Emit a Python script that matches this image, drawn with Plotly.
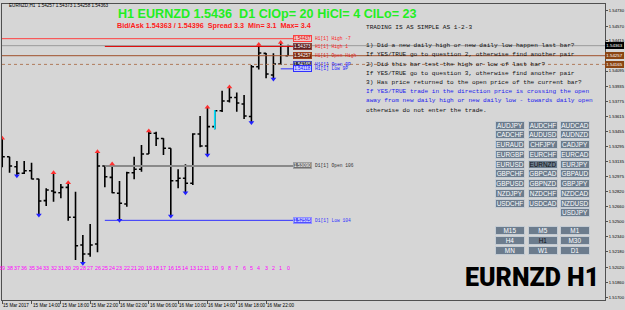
import plotly.graph_objects as go

# ---------------- data ----------------
bar_shift_labels = list(range(39, -1, -1))          # MT4 bar index (39 .. 0)
opens = [1.53280, 1.53188, 1.53082, 1.53013, 1.53040, 1.52952, 1.52723, 1.52825, 1.52807, 1.52864,
         1.52547, 1.52254, 1.52159, 1.52264, 1.53090, 1.52970, 1.52801, 1.52688, 1.53019, 1.53055,
         1.53217, 1.53436, 1.53381, 1.53277, 1.52934, 1.52960, 1.52907, 1.53428, 1.53301, 1.53506,
         1.53675, 1.53777, 1.53814, 1.53746, 1.53613, 1.54140, 1.54282, 1.54053, 1.54169, 1.54257]
highs = [1.53383, 1.53188, 1.53143, 1.53143, 1.53125, 1.52955, 1.52854, 1.53019, 1.52899, 1.52913,
         1.52818, 1.52360, 1.52476, 1.53241, 1.53090, 1.53111, 1.52931, 1.53029, 1.53188, 1.53312,
         1.53460, 1.53453, 1.53383, 1.53279, 1.53055, 1.53108, 1.53436, 1.53619, 1.53711, 1.53682,
         1.53886, 1.53926, 1.53867, 1.53841, 1.54158, 1.54375, 1.54285, 1.54282, 1.54396, 1.54373]
lows = [1.53076, 1.53019, 1.52987, 1.53005, 1.52949, 1.52571, 1.52667, 1.52712, 1.52748, 1.52511,
        1.52095, 1.52060, 1.52130, 1.52177, 1.52864, 1.52801, 1.52515, 1.52659, 1.52949, 1.53029,
        1.53217, 1.53301, 1.53206, 1.52561, 1.52854, 1.52807, 1.52889, 1.53288, 1.53206, 1.53478,
        1.53661, 1.53762, 1.53664, 1.53587, 1.53550, 1.54111, 1.54018, 1.54010, 1.54158, 1.54255]
closes = [1.53188, 1.53090, 1.53013, 1.53040, 1.52952, 1.52719, 1.52836, 1.52811, 1.52864, 1.52547,
          1.52246, 1.52159, 1.52254, 1.53090, 1.52976, 1.52807, 1.52695, 1.53019, 1.53055, 1.53217,
          1.53436, 1.53381, 1.53277, 1.52934, 1.52960, 1.52907, 1.53428, 1.53301, 1.53506, 1.53675,
          1.53777, 1.53814, 1.53756, 1.53619, 1.54140, 1.54285, 1.54063, 1.54169, 1.54359, 1.54363]
highlight_bar = 29                                   # cyan bar
up_arrow_bars = [0, 7, 9, 13, 15, 20, 28, 31, 35, 38]
down_arrow_bars = [2, 5, 11, 16, 23, 25, 28, 34, 37]

time_labels = ["15 Mar 2017", "15 Mar 14:00", "15 Mar 18:00", "15 Mar 22:00", "16 Mar 02:00",
               "16 Mar 06:00", "16 Mar 10:00", "16 Mar 14:00", "16 Mar 18:00", "16 Mar 22:00"]
time_label_bars = [0, 4, 8, 12, 16, 20, 24, 28, 32, 36]

price_ticks = [1.54730, 1.54570, 1.54415, 1.54095, 1.53935, 1.53775, 1.53615, 1.53455, 1.53295,
               1.53135, 1.52975, 1.52820, 1.52660, 1.52500, 1.52340, 1.52180, 1.52020, 1.51860, 1.51700]

level_names = ["H1[1] High -7", "H1[1] High 1", "H1[1] Open High", "H1[1] Open 9P", "H1[1] Low 9P",
               "D1[1] Open 106", "D1[1] Low 104"]
level_prices = [1.54437, 1.54355, 1.54257, 1.54165, 1.54118, 1.53090, 1.52515]
level_start_bar = [0, 14, 0, 0, 38, 14, 14]
level_box_text = ["1.54437", "1.54373", "1.54257", "1.54165", "1.54118", "1.53090", "1.52515"]

bid, ask = 1.54363, 1.54396
axis_marks = [1.54363, 1.54257, 1.54165]

header = "EURNZD,H1  1.54257 1.54373 1.54258 1.54363"
title_text = "H1 EURNZD 1.5436  D1 ClOp= 20 HiCl= 4 ClLo= 23"
spread_text = "Bid/Ask 1.54363 / 1.54396  Spread 3.3  Min= 3.1  Max= 3.4"
rules = ["TRADING IS AS SIMPLE AS 1-2-3", "",
         "1) Did a new daily high or new daily low happen last bar?",
         "If YES/TRUE go to question 2, otherwise find another pair",
         "2) Did this bar test the high or low of last bar?",
         "If YES/TRUE go to question 3, otherwise find another pair",
         "3) Has price returned to the open price of the current bar?",
         "If YES/TRUE trade in the direction price is crossing the open",
         "away from new daily high or new daily low - towards daily open",
         "otherwise do not enter the trade."]
pairs = [["AUDJPY", "AUDCHF", "AUDCAD"], ["CADCHF", "AUDUSD", "AUDNZD"], ["EURAUD", "CHFJPY", "CADJPY"],
         ["EURGBP", "EURCHF", "EURCAD"], ["EURUSD", "EURNZD", "EURJPY"], ["GBPCHF", "GBPCAD", "GBPAUD"],
         ["GBPUSD", "GBPNZD", "GBPJPY"], ["NZDJPY", "NZDCHF", "NZDCAD"], ["USDCHF", "USDCAD", "NZDUSD"],
         [None, None, "USDJPY"]]
timeframes = [["M15", "M5", "M1"], ["H4", "H1", "M30"], ["MN", "W1", "D1"]]
active = {"EURNZD", "H1"}
big_label = "EURNZD H1"

# ---------------- styling / layout ----------------
BG = "#d6d6d6"
SANS = "Liberation Sans, Arial, sans-serif"
MONO = "Liberation Mono, Courier New, monospace"
L, R, T, B = 2, 605, 4, 300
X_RANGE = [-0.03, 82.24]
Y_RANGE = [1.51672, 1.54804]
BOX_END = 39.7


def X(px):
    return (px - L) / (R - L)


def Y(py):
    return (B - py) / (B - T)


xs = list(range(len(opens)))
fig = go.Figure()

# level lines
line_styles = [("#ff4040", 1, "solid", BOX_END), ("#e00000", 1, "solid", BOX_END),
               ("#a0522d", 1, "solid", X_RANGE[1]), ("#b07a5a", 1, "dot", X_RANGE[1]),
               ("#3030ff", 1, "solid", BOX_END), ("#8a8a8a", 2, "solid", BOX_END),
               ("#3030ff", 1, "solid", BOX_END)]
fig.add_trace(go.Scatter(x=[X_RANGE[0], X_RANGE[1]], y=[bid, bid], mode="lines",
                         line=dict(color="#9a9a9a", width=1), hoverinfo="skip"))
for p, s, st in zip(level_prices, level_start_bar, line_styles):
    col, w, dash, end = st
    s = X_RANGE[0] if s == 0 else s
    fig.add_trace(go.Scatter(x=[s, end], y=[p, p], mode="lines",
                             line=dict(color=col, width=w, dash=dash), hoverinfo="skip"))

fig.add_trace(go.Ohlc(x=xs, open=opens, high=highs, low=lows, close=closes,
                      increasing=dict(line=dict(color="#000000", width=1.6)),
                      decreasing=dict(line=dict(color="#000000", width=1.6)),
                      tickwidth=0.35, hoverinfo="skip"))
fig.add_trace(go.Scatter(x=[highlight_bar, highlight_bar],
                         y=[lows[highlight_bar], highs[highlight_bar]], mode="lines",
                         line=dict(color="#00e0ff", width=1.6), hoverinfo="skip"))
fig.add_trace(go.Scatter(x=up_arrow_bars, y=[highs[i] for i in up_arrow_bars], mode="markers",
                         marker=dict(symbol="triangle-up", size=5, color="#ff3030"), hoverinfo="skip"))
fig.add_trace(go.Scatter(x=down_arrow_bars, y=[lows[i] for i in down_arrow_bars], mode="markers",
                         marker=dict(symbol="triangle-down", size=5, color="#2020ff"), hoverinfo="skip"))

anns = []


def txt(text, x, y, size, color, family=SANS, xanchor="left", yanchor="middle",
        xref="paper", yref="paper", weight=None, **kw):
    font = dict(size=size, color=color, family=family)
    if weight:
        font["weight"] = weight
    d = dict(text=text, x=x, y=y, xref=xref, yref=yref, xanchor=xanchor, yanchor=yanchor,
             showarrow=False, font=font, borderpad=0)
    d.update(kw)
    anns.append(d)


txt(header, X(8), Y(5), 4.6, "#000000")
txt("<b>" + title_text + "</b>", X(117), Y(14), 12.6, "#22ee22")
txt("<b>" + spread_text + "</b>", X(116), Y(25), 7.2, "#ff1a1a")

# level boxes + labels
box_styles = [("#f2c4c4", "#ff4040", "#e00000"), ("#5a2020", "#8a4040", "#ffffff"),
              ("#7a2a10", "#a04020", "#ffffff"), ("#303040", "#5050c0", "#ffffff"),
              ("#c8ccff", "#3030ff", "#2020ff"), ("#707070", "#a0a0a0", "#ffffff"),
              ("#5050ff", "#9090ff", "#ffffff")]
label_colors = ["#ff2020", "#ff2020", "#e02020", "#2020ff", "#2020ff", "#303030", "#3030ff"]
for name, p, bt, bs, lc in zip(level_names, level_prices, level_box_text, box_styles, label_colors):
    bg, bc, fc = bs
    txt(bt, X(293), p, 4.6, fc, xanchor="left", yref="y", bgcolor=bg, bordercolor=bc,
        borderwidth=1, width=17, height=5, align="center")
    txt(name, X(314), p, 4.6, lc, family=MONO, yref="y")

axis_cols = ["#000000", "#8b4513", "#8b4513"]
for p, c in zip(axis_marks, axis_cols):
    txt(f"{p:.5f}", X(605), p, 4.4, "#ffffff", yref="y", bgcolor=c, bordercolor=c,
        borderwidth=1, width=17, height=5, align="center")

# rules text
for i, line in enumerate(rules):
    if not line:
        continue
    col = "#2222ee" if i in (7, 8) else "#111111"
    ypix = 27.7 if i == 0 else 27.3 + 9.2 * i
    txt(line, X(365), Y(ypix), 6.1, col, family=MONO)


# buttons
def button(label, cx, cy):
    txt(label, X(cx), Y(cy), 6.4, "#111111" if label in active else "#ffffff",
        xanchor="center", bgcolor="#6c7c8d", bordercolor="#c4ccd4", borderwidth=1,
        width=28, height=6.5, align="center")


for r, row in enumerate(pairs):
    for c, lab in enumerate(row):
        if lab:
            button(lab, 510 + 32.6 * c, 125.2 + 9.75 * r)
for r, row in enumerate(timeframes):
    for c, lab in enumerate(row):
        button(lab, 510 + 32.6 * c, 230.9 + 9.7 * r)

txt(big_label, X(532), Y(277.5), 25, "#000000", family="Roboto, Liberation Sans, sans-serif",
    weight=900, xanchor="center")

# bar numbers and time labels
for k, n in zip(xs, bar_shift_labels):
    txt(str(n), k, Y(268), 5.3, "#ff00ff", xref="x", xanchor="center")
for k, t in zip(time_label_bars, time_labels):
    txt(t, k, Y(305), 4.6, "#000000", xref="x", xanchor="left")

fig.update_layout(
    width=625, height=310, margin=dict(l=L, r=625 - R, t=T, b=310 - B),
    paper_bgcolor=BG, plot_bgcolor=BG, showlegend=False, annotations=anns,
    xaxis=dict(range=X_RANGE, showgrid=False, zeroline=False, showline=True, linecolor="#505050",
               linewidth=1, mirror=True, tickvals=time_label_bars, ticks="outside", ticklen=3,
               tickcolor="#505050", showticklabels=False, rangeslider=dict(visible=False),
               automargin=False),
    yaxis=dict(range=Y_RANGE, side="right", showgrid=False, zeroline=False, showline=True,
               linecolor="#505050", linewidth=1, mirror=True, tickvals=price_ticks,
               ticktext=[f"{v:.5f}" for v in price_ticks], ticks="outside", ticklen=2,
               tickcolor="#505050", tickfont=dict(size=4.2, family=SANS, color="#000000"),
               automargin=False),
)
fig.write_html("out.html")
